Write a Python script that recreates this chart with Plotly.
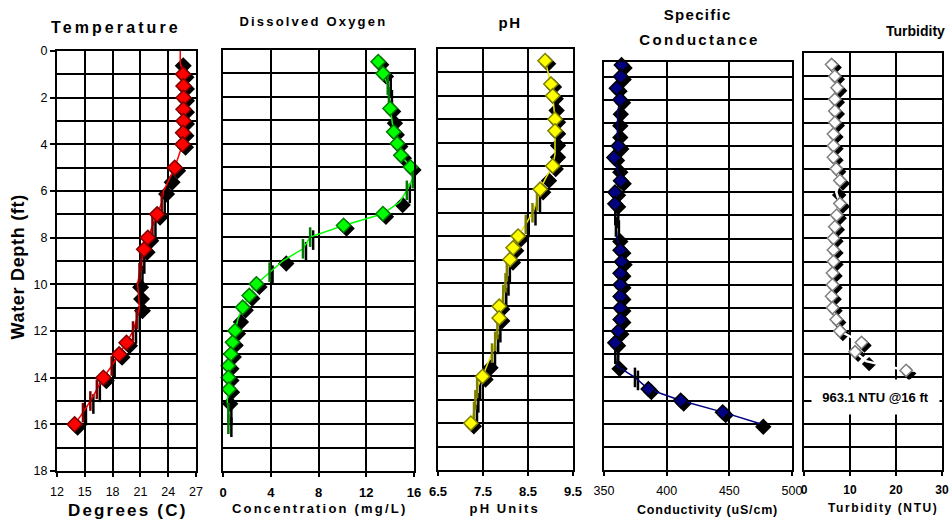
import json
import plotly.graph_objects as go

W, H = 950, 524
FONT = "Liberation Sans, Arial, sans-serif"

# ---------------- data (depth in ft) ----------------
temp_depth = [0.0, 0.5, 1.0, 1.5, 2.0, 2.5, 3.0, 3.5, 4.0, 4.5, 5.0, 5.5, 6.0, 6.5, 7.0, 7.5, 8.0,
              8.5, 9.0, 9.5, 10.0, 10.5, 11.0, 11.5, 12.0, 12.5, 13.0, 13.5, 14.0, 14.5, 15.0, 15.5, 16.0]
temp_degc = [25.3, 25.3, 25.6, 25.65, 25.65, 25.65, 25.65, 25.6, 25.55, 25.1, 24.7, 24.1, 23.5, 23.3, 22.8,
             22.3, 21.8, 21.4, 21.1, 20.9, 20.7, 20.8, 20.9, 20.6, 20.2, 19.5, 18.7, 17.9, 17.0, 16.3,
             15.6, 14.8, 13.9]
temp_colored = [1.0, 1.5, 2.0, 2.5, 3.0, 3.5, 4.0, 5.0, 7.0, 8.0, 8.5, 12.5, 13.0, 14.0, 16.0]
temp_black = [0.5, 5.5, 6.0, 10.0, 10.5, 11.0]
temp_ticks = [6.5, 7.5, 9.0, 9.5, 11.5, 12.0, 13.5, 14.5, 15.0, 15.5]

do_depth = [0.5, 1.0, 1.5, 2.0, 2.5, 3.0, 3.5, 4.0, 4.5, 5.0, 5.5, 6.0, 6.5, 7.0, 7.5, 8.0,
            8.5, 9.0, 9.5, 10.0, 10.5, 11.0, 11.5, 12.0, 12.5, 13.0, 13.5, 14.0, 14.5, 15.0, 15.5, 16.0]
do_mgl = [13.0, 13.4, 13.8, 13.9, 14.0, 14.15, 14.3, 14.6, 14.9, 15.7, 15.9, 15.4, 14.8, 13.4, 10.1, 7.3,
          6.7, 5.05, 3.9, 2.8, 2.2, 1.65, 1.25, 1.0, 0.8, 0.65, 0.45, 0.45, 0.5, 0.35, 0.45, 0.45]
do_colored = [0.5, 1.0, 2.5, 3.5, 4.0, 4.5, 5.0, 7.0, 7.5, 10.0, 10.5, 11.0, 12.0, 12.5, 13.0, 13.5, 14.0, 14.5]
do_black = [3.0, 6.5, 9.0, 11.5, 15.0]
do_ticks = [1.5, 2.0, 5.5, 6.0, 8.0, 8.5, 9.5, 15.5, 16.0]

ph_depth = [0.5, 1.0, 1.5, 2.0, 2.5, 3.0, 3.5, 4.0, 4.5, 5.0, 5.5, 6.0, 6.5, 7.0, 7.5, 8.0,
            8.5, 9.0, 9.5, 10.0, 10.5, 11.0, 11.5, 12.0, 12.5, 13.0, 13.5, 14.0, 14.5, 15.0, 15.5, 16.0]
ph_units = [8.88, 8.95, 9.01, 9.05, 9.07, 9.1, 9.1, 9.1, 9.1, 9.05, 8.9, 8.77, 8.7, 8.6, 8.45, 8.28,
            8.17, 8.1, 8.03, 8.0, 7.95, 7.86, 7.86, 7.82, 7.77, 7.7, 7.6, 7.49, 7.37, 7.33, 7.3, 7.23]
ph_colored = [0.5, 1.5, 2.0, 3.0, 3.5, 5.0, 6.0, 8.0, 8.5, 9.0, 11.0, 11.5, 14.0, 16.0]
ph_black = [2.5, 4.0, 4.5, 5.5, 13.5]
ph_ticks = [6.5, 7.0, 7.5, 9.5, 10.0, 10.5, 12.0, 12.5, 13.0, 14.5, 15.0, 15.5]

sc_depth = [0.5, 1.0, 1.5, 2.0, 2.5, 3.0, 3.5, 4.0, 4.5, 5.0, 5.5, 6.0, 6.5, 7.0, 7.5, 8.0,
            8.5, 9.0, 9.5, 10.0, 10.5, 11.0, 11.5, 12.0, 12.5, 13.0, 13.5, 14.0, 14.5, 15.0, 15.5, 16.0]
sc_us = [364, 363.3, 360, 362.8, 361, 360.6, 360.6, 361.4, 358, 360.6, 363.3, 358.8, 358.8, 359, 359.5, 360.6,
         363, 364, 363, 363, 363, 363, 363, 361.4, 358.8, 359, 360, 374.7, 385.4, 411.2, 444.7, 474.7]
sc_colored = [0.5, 1.0, 1.5, 2.0, 4.0, 4.5, 5.5, 6.0, 6.5, 8.5, 9.0, 9.5, 10.0, 10.5, 11.0, 11.5,
              12.0, 12.5, 14.5, 15.0, 15.5]
sc_black = [2.5, 3.0, 3.5, 5.0, 8.0, 13.5, 16.0]
sc_ticks = [7.0, 7.5, 13.0, 14.0]

tb_depth = [0.5, 1.0, 1.5, 2.0, 2.5, 3.0, 3.5, 4.0, 4.5, 5.0, 5.5, 6.0, 6.5, 7.0, 7.5, 8.0,
            8.5, 9.0, 9.5, 10.0, 10.5, 11.0, 11.5, 12.0, 12.5, 12.9, 13.3, 13.7, 16.0]
tb_ntu = [6.0, 6.7, 7.2, 6.7, 6.7, 6.7, 6.4, 6.4, 6.4, 7.0, 7.8, 7.0, 7.8, 7.1, 6.7, 6.4,
          6.4, 6.4, 6.2, 6.2, 6.0, 6.2, 7.0, 7.8, 12.5, 11.1, 13.5, 22.2, 963.1]
tb_colored = [0.5, 1.0, 1.5, 2.0, 2.5, 3.0, 3.5, 4.0, 4.5, 5.0, 5.5, 6.5, 7.0, 7.5, 8.0,
              8.5, 9.0, 9.5, 10.0, 10.5, 11.0, 11.5, 12.0, 12.5, 12.9, 13.7]
tb_black = [6.0, 13.3]
tb_ticks = []
tb_note = "963.1 NTU @16 ft"

# ---------------- panel styling ----------------
panels = [
    dict(depth=temp_depth, vals=temp_degc, colored=temp_colored, black=temp_black, ticks=temp_ticks,
         box=(57, 196, 51, 471), xr=[12, 27], dtick=3, yr=[18, 0],
         fill="#FF0000", edge="#800000", line="#FF0000", lw=1.5, tick="#800000", size=11.5,
         tickfont=dict(size=12.5), ylabels=True),
    dict(depth=do_depth, vals=do_mgl, colored=do_colored, black=do_black, ticks=do_ticks,
         box=(223, 414, 50, 471), xr=[0, 16], dtick=4, yr=[18, 0],
         fill="#00FF00", edge="#007A00", line="#00FF00", lw=1.5, tick="#007A00", size=11,
         tickfont=dict(size=13, weight="bold"), ylabels=False),
    dict(depth=ph_depth, vals=ph_units, colored=ph_colored, black=ph_black, ticks=ph_ticks,
         box=(438, 573, 49, 470), xr=[6.5, 9.5], dtick=1, yr=[18, 0],
         fill="#FFFF00", edge="#808000", line="#E8E800", lw=1.5, tick="#808000", size=11,
         tickfont=dict(size=13, weight="bold"), ylabels=False),
    dict(depth=sc_depth, vals=sc_us, colored=sc_colored, black=sc_black, ticks=sc_ticks,
         box=(604, 792, 62, 470), xr=[350, 500], dtick=50, yr=[18, 0.37],
         fill="#000080", edge="#000000", line="#000080", lw=1.5, tick="#000000", size=11,
         tickfont=dict(size=12.5), ylabels=False),
    dict(depth=tb_depth, vals=tb_ntu, colored=tb_colored, black=tb_black, ticks=tb_ticks,
         box=(804, 942, 53, 470), xr=[0, 30], dtick=10, yr=[18, 0],
         fill="#FFFFFF", edge="#808080", line="#FFFFFF", lw=2.5, tick="#808080", size=9.5,
         tickfont=dict(size=12, weight="bold"), ylabels=False),
]

SH = 3  # shadow offset in px
GW = 2

fig = go.Figure()
layout = dict(width=W, height=H, autosize=False,
              margin=dict(l=0, r=0, t=0, b=0, pad=0, autoexpand=False),
              paper_bgcolor="white", plot_bgcolor="white", showlegend=False,
              font=dict(family=FONT, color="black"))


def pick(depth, vals, which):
    m = dict(zip(depth, vals))
    return [m[d] for d in which], list(which)


for i, p in enumerate(panels, 1):
    x0, x1, yt, yb = p["box"]
    xd = [x0 / W, x1 / W]
    yd = [1 - yb / H, 1 - yt / H]
    ppx = (x1 - x0) / (p["xr"][1] - p["xr"][0])
    ppy = (yb - yt) / (p["yr"][0] - p["yr"][1])
    sx, sy = SH / ppx, SH / ppy
    xn = "x" if i == 1 else f"x{i}"
    yn = "y" if i == 1 else f"y{i}"
    j = i + 5
    layout["xaxis" if i == 1 else f"xaxis{i}"] = dict(domain=xd, range=[p["xr"][0] - sx, p["xr"][1] - sx],
                                                       visible=False, anchor=yn, automargin=False)
    layout["yaxis" if i == 1 else f"yaxis{i}"] = dict(domain=yd, range=[p["yr"][0] - sy, p["yr"][1] - sy],
                                                       visible=False, anchor=xn, automargin=False)
    layout[f"xaxis{j}"] = dict(domain=xd, range=p["xr"], overlaying=xn, anchor=f"y{j}", side="bottom",
                               tick0=p["xr"][0], dtick=p["dtick"], showgrid=True, gridcolor="black",
                               gridwidth=GW, zeroline=False, ticks="outside", ticklen=4, tickwidth=1.5,
                               tickcolor="black", showline=True, linewidth=2, linecolor="black",
                               mirror=True, tickfont=dict(family=FONT, color="black", **p["tickfont"]),
                               ticklabelstandoff=4, automargin=False)
    yax = dict(domain=yd, range=p["yr"], overlaying=yn, anchor=f"x{j}", side="left",
               showgrid=True, gridcolor="black", gridwidth=GW, zeroline=False, automargin=False,
               showline=True, linewidth=2, linecolor="black", mirror=True)
    if p["ylabels"]:
        yax.update(tick0=0, dtick=2, ticks="outside", ticklen=5, tickwidth=1.5, tickcolor="black",
                   tickfont=dict(family=FONT, size=12.5, color="black"),
                   minor=dict(tick0=0, dtick=1, showgrid=True, gridcolor="black", gridwidth=GW, ticks=""))
    else:
        yax.update(tick0=0, dtick=1, ticks="", showticklabels=False)
    layout[f"yaxis{j}"] = yax

    # shadow layer
    sv, sd = pick(p["depth"], p["vals"], sorted(p["colored"] + p["black"]))
    fig.add_trace(go.Scatter(x=sv, y=sd, xaxis=xn, yaxis=yn, mode="markers", cliponaxis=False,
                             marker=dict(symbol="diamond", size=p["size"], color="black",
                                         line=dict(color="black", width=1.5)), hoverinfo="skip"))
    if p["ticks"]:
        tv, td = pick(p["depth"], p["vals"], p["ticks"])
        fig.add_trace(go.Scatter(x=tv, y=td, xaxis=xn, yaxis=yn, mode="markers", cliponaxis=False,
                                 marker=dict(symbol="line-ns", size=14, line=dict(color="black", width=2.5)),
                                 hoverinfo="skip"))
    # main layer
    fig.add_trace(go.Scatter(x=p["vals"], y=p["depth"], xaxis=f"x{j}", yaxis=f"y{j}", mode="lines",
                             line=dict(color=p["line"], width=p["lw"]), hoverinfo="skip"))
    if p["ticks"]:
        fig.add_trace(go.Scatter(x=tv, y=td, xaxis=f"x{j}", yaxis=f"y{j}", mode="markers", cliponaxis=False,
                                 marker=dict(symbol="line-ns", size=14, line=dict(color=p["tick"], width=2.5)),
                                 hoverinfo="skip"))
    cv, cd = pick(p["depth"], p["vals"], p["colored"])
    fig.add_trace(go.Scatter(x=cv, y=cd, xaxis=f"x{j}", yaxis=f"y{j}", mode="markers", cliponaxis=False,
                             marker=dict(symbol="diamond", size=p["size"], color=p["fill"],
                                         line=dict(color=p["edge"], width=1.5)), hoverinfo="skip"))

# ---------------- text ----------------
labels = [
    ("Temperature", 116, 27, 16, 3.1, 0),
    ("Dissolved Oxygen", 313, 21, 13, 2.2, 0),
    ("pH", 510, 22, 15, 1.5, 0),
    ("Specific", 698, 15, 15, 1.3, 0),
    ("Conductance", 699, 39, 15, 2.3, 0),
    ("Turbidity", 915, 31, 14, 0, 0),
    ("Degrees (C)", 127, 510, 17, 2.2, 0),
    ("Concentration (mg/L)", 319, 508, 13, 2.2, 0),
    ("pH Units", 504, 508, 13, 2.1, 0),
    ("Conductivity (uS/cm)", 707, 510, 12.5, 0.8, 0),
    ("Turbidity (NTU)", 883, 508, 12, 1.6, 0),
    ("Water Depth (ft)", 18, 267, 18, 0.7, -90),
]
annotations = []
for txt, x, y, fs, ls, ang in labels:
    annotations.append(dict(text=txt, x=x / W, y=1 - y / H, xref="paper", yref="paper",
                            xanchor="center", yanchor="middle", showarrow=False, textangle=ang,
                            font=dict(family=FONT, size=fs, color="black", weight="bold")))
annotations.append(dict(text=tb_note, x=875.5 / W, y=1 - 397 / H, xref="paper", yref="paper",
                        xanchor="center", yanchor="middle", showarrow=False, bgcolor="white",
                        width=125, height=32, font=dict(family=FONT, size=13, color="black", weight="bold")))
layout["annotations"] = annotations
fig.update_layout(**layout)

spacing = {t[0]: t[4] for t in labels if t[4]}
post = ("var sp=%s;document.querySelectorAll('text.annotation-text').forEach(function(t){"
        "var k=t.getAttribute('data-unformatted');if(sp.hasOwnProperty(k)){t.style.letterSpacing=sp[k]+'px';}});"
        % json.dumps(spacing))
fig.write_html("out.html", post_script=post, config={"displayModeBar": False})
